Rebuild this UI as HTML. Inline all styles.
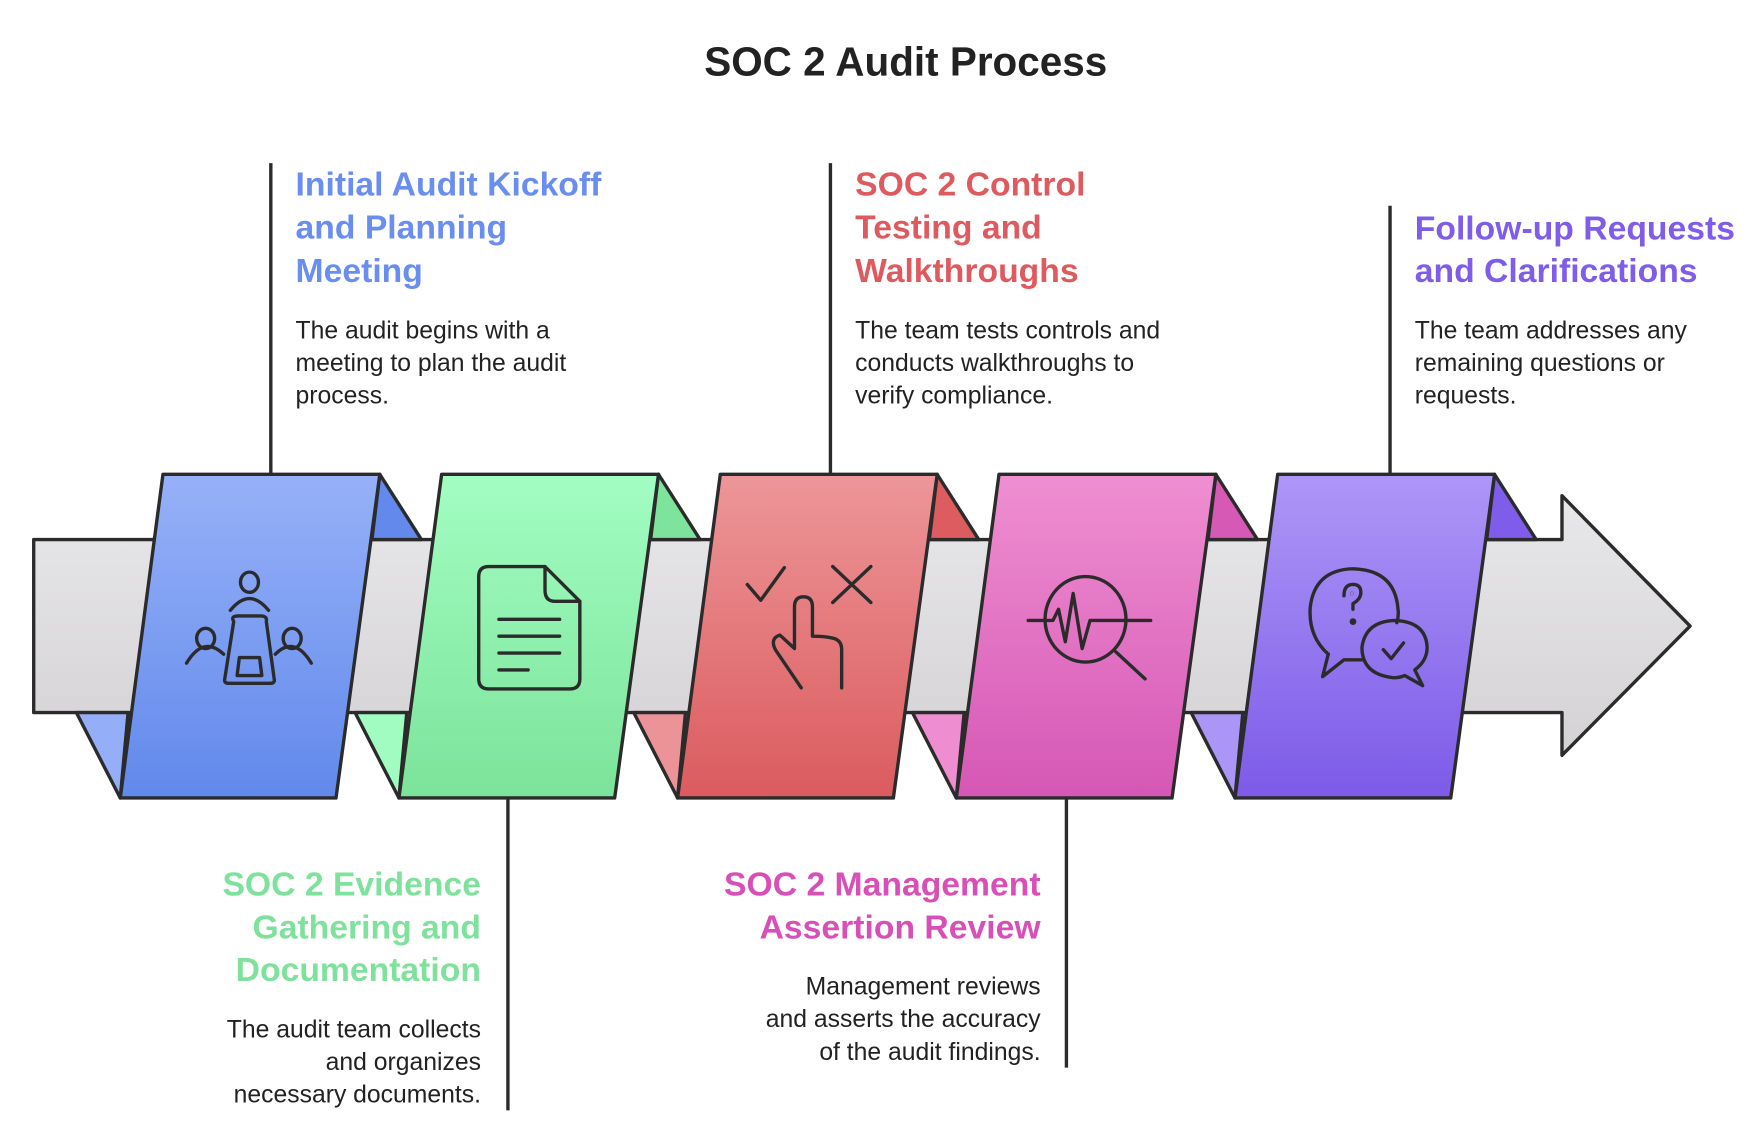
<!DOCTYPE html>
<html><head><meta charset="utf-8"><style>
html,body{margin:0;padding:0;background:#fff;}
svg{display:block;}
text{font-family:"Liberation Sans",sans-serif;}
.h{font-size:30px;font-weight:bold;}
.b{font-size:22px;fill:#222;}
</style></head><body>
<svg width="1762" height="1142" viewBox="0 0 1568 1016" xmlns="http://www.w3.org/2000/svg">
<defs>
<linearGradient id="gg" x1="0" y1="0" x2="0" y2="1"><stop offset="0" stop-color="#e8e7ea"/><stop offset="1" stop-color="#d4d2d5"/></linearGradient>
<linearGradient id="g1" x1="0" y1="0" x2="0" y2="1"><stop offset="0" stop-color="#97b1f8"/><stop offset="1" stop-color="#6189eb"/></linearGradient>
<linearGradient id="g2" x1="0" y1="0" x2="0" y2="1"><stop offset="0" stop-color="#a2fdc2"/><stop offset="1" stop-color="#7ce39a"/></linearGradient>
<linearGradient id="g3" x1="0" y1="0" x2="0" y2="1"><stop offset="0" stop-color="#ed9699"/><stop offset="1" stop-color="#db5b5e"/></linearGradient>
<linearGradient id="g4" x1="0" y1="0" x2="0" y2="1"><stop offset="0" stop-color="#ef8fd1"/><stop offset="1" stop-color="#d557b5"/></linearGradient>
<linearGradient id="g5" x1="0" y1="0" x2="0" y2="1"><stop offset="0" stop-color="#ad97f7"/><stop offset="1" stop-color="#7d5ae8"/></linearGradient>
</defs>
<text x="806" y="67" text-anchor="middle" style="font-size:36px;font-weight:bold;fill:#222">SOC 2 Audit Process</text>

<!-- connector lines -->
<g stroke="#2b2b2b" stroke-width="3">
<line x1="241" y1="145" x2="241" y2="422"/>
<line x1="452" y1="710" x2="452" y2="988"/>
<line x1="739" y1="145" x2="739" y2="422"/>
<line x1="949" y1="710" x2="949" y2="950"/>
<line x1="1237" y1="183" x2="1237" y2="422"/>
</g>

<!-- gray arrow -->
<path d="M30,480 H1390 V441 L1504,557 L1390,672 V634 H30 Z" fill="url(#gg)" stroke="#2b2b2b" stroke-width="3" stroke-linejoin="round"/>

<!-- panels -->
<g stroke="#2b2b2b" stroke-width="3" stroke-linejoin="round">
<g>
<path d="M338,422 L375,480 L331,480 Z" fill="#6389ec"/>
<path d="M68,634 L114,634 L107,710 Z" fill="#94aff7"/>
<path d="M145,422 H338 L299,710 H107 Z" fill="url(#g1)"/>
</g>
<g transform="translate(248,0)">
<path d="M338,422 L375,480 L331,480 Z" fill="#7ee49c"/>
<path d="M68,634 L114,634 L107,710 Z" fill="#a0fcc0"/>
<path d="M145,422 H338 L299,710 H107 Z" fill="url(#g2)"/>
</g>
<g transform="translate(496,0)">
<path d="M338,422 L375,480 L331,480 Z" fill="#dc5c5f"/>
<path d="M68,634 L114,634 L107,710 Z" fill="#ec9397"/>
<path d="M145,422 H338 L299,710 H107 Z" fill="url(#g3)"/>
</g>
<g transform="translate(744,0)">
<path d="M338,422 L375,480 L331,480 Z" fill="#d659b6"/>
<path d="M68,634 L114,634 L107,710 Z" fill="#ee8dd0"/>
<path d="M145,422 H338 L299,710 H107 Z" fill="url(#g4)"/>
</g>
<g transform="translate(992,0)">
<path d="M338,422 L375,480 L331,480 Z" fill="#7f5ce9"/>
<path d="M68,634 L114,634 L107,710 Z" fill="#ab95f6"/>
<path d="M145,422 H338 L299,710 H107 Z" fill="url(#g5)"/>
</g>
</g>

<!- icons -->
<g fill="none" stroke="#2b2b2b" stroke-width="3" stroke-linecap="round" stroke-linejoin="round">
<!-- meeting -->
<ellipse cx="222" cy="518" rx="8" ry="9"/>
<path d="M205,543 Q222,522 239,543"/>
<ellipse cx="183" cy="568" rx="8" ry="9"/>
<path d="M166,590 Q181,565 199,582"/>
<ellipse cx="260" cy="568" rx="8" ry="9"/>
<path d="M277,590 Q262,565 245,582"/>
<path d="M208,553 Q205,548 212,548 H232 Q238,548 237,553 L244,604 Q245,608 240,608 H204 Q199,608 200,604 Z"/>
<path d="M213,585 H231 L233,601 H211 Z"/>
<!-- document -->
<path d="M485,504 H435 Q426,504 426,513 V604 Q426,613 435,613 H507 Q516,613 516,604 V535 L485,504 Z"/>
<path d="M485,504 V525 Q485,535 494,535 H516"/>
<line x1="444" y1="551" x2="498" y2="551"/>
<line x1="444" y1="566" x2="498" y2="566"/>
<line x1="444" y1="581" x2="498" y2="581"/>
<line x1="444" y1="596" x2="470" y2="596"/>
<!-- check / x / hand -->
<path d="M665,520 L677,534 L698,505"/>
<path d="M741,504 L775,536 M775,504 L741,536"/>
<path d="M713,612 L690,578 Q685,568 694,565 L707,577 V540 Q707,531 715,531 Q723,531 723,540 V566 Q735,566 742,568 Q749,570 749,578 V612"/>
<!-- pulse search -->
<ellipse cx="966" cy="551" rx="36" ry="38"/>
<path d="M915,552 H937 L942,542 L948,571 L955,528 L963,577 L970,552 H1024"/>
<path d="M993,580 L1019,604"/>
<!-- chat -->
<path d="M1182,582 Q1164,566 1166,540 Q1170,507 1204,506 Q1241,507 1244,541 Q1245,548 1243,554"/>
<path d="M1182,582 L1177,602 L1196,587 H1212"/>
<circle cx="1203" cy="528" r="0.1"/>
<path d="M1196,530 Q1196,520 1204,520 Q1211,520 1211,527 Q1211,533 1204,537 V542"/>
<circle cx="1204" cy="553" r="1.5" fill="#2b2b2b"/>
<path d="M1259,596 Q1270,588 1270,576 Q1269,553 1241,552 Q1215,553 1212,576 Q1212,600 1240,603 Q1246,603 1250,601 L1266,610 Z"/>
<path d="M1231,578 L1238,586 L1249,572"/>
</g>

<!-- texts -->
<g class="h" style="fill:#6a8ef0">
<text x="263" y="174" class="h">Initial Audit Kickoff</text>
<text x="263" y="212" class="h">and Planning</text>
<text x="263" y="251" class="h">Meeting</text>
</g>
<text class="b" x="263" y="301">The audit begins with a</text>
<text class="b" x="263" y="330">meeting to plan the audit</text>
<text class="b" x="263" y="359">process.</text>

<g style="fill:#df5a5f">
<text x="761" y="174" class="h">SOC 2 Control</text>
<text x="761" y="212" class="h">Testing and</text>
<text x="761" y="251" class="h">Walkthroughs</text>
</g>
<text class="b" x="761" y="301">The team tests controls and</text>
<text class="b" x="761" y="330">conducts walkthroughs to</text>
<text class="b" x="761" y="359">verify compliance.</text>

<g style="fill:#7f5ce9">
<text x="1259" y="213" class="h">Follow-up Requests</text>
<text x="1259" y="251" class="h">and Clarifications</text>
</g>
<text class="b" x="1259" y="301">The team addresses any</text>
<text class="b" x="1259" y="330">remaining questions or</text>
<text class="b" x="1259" y="359">requests.</text>

<g style="fill:#7ee29c" text-anchor="end">
<text x="428" y="797" class="h">SOC 2 Evidence</text>
<text x="428" y="835" class="h">Gathering and</text>
<text x="428" y="873" class="h">Documentation</text>
</g>
<g text-anchor="end">
<text class="b" x="428" y="923">The audit team collects</text>
<text class="b" x="428" y="952">and organizes</text>
<text class="b" x="428" y="981">necessary documents.</text>
</g>

<g style="fill:#d84fb7" text-anchor="end">
<text x="926" y="797" class="h">SOC 2 Management</text>
<text x="926" y="835" class="h">Assertion Review</text>
</g>
<g text-anchor="end">
<text class="b" x="926" y="885">Management reviews</text>
<text class="b" x="926" y="914">and asserts the accuracy</text>
<text class="b" x="926" y="943">of the audit findings.</text>
</g>
</svg>
</body></html>
